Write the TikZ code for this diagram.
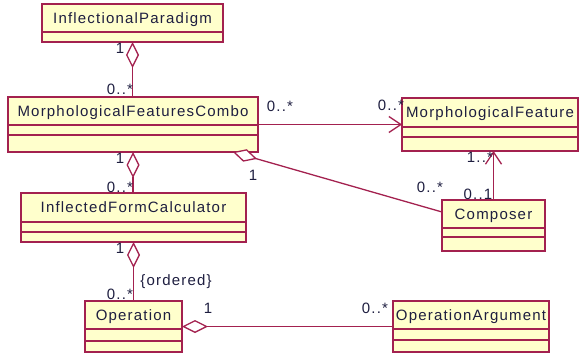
\documentclass[tikz,border=0pt]{standalone}
\usepackage{fontspec}
\setmainfont{Liberation Sans}[LetterSpace=8]
\usetikzlibrary{arrows.meta}
\definecolor{umlline}{HTML}{A3214F}
\definecolor{umlfill}{HTML}{FFFFCC}
\definecolor{umltext}{HTML}{1E1E40}
\tikzset{
  clsbox/.style={draw=umlline, fill=umlfill, line width=1.3pt, inner sep=0pt, outer sep=0pt},
  clsline/.style={draw=umlline, line width=1.3pt},
  clstext/.style={text=umltext, inner sep=0pt, anchor=base, font=\fontsize{15}{18}\selectfont},
  lbl/.style={text=umltext, inner sep=0pt, anchor=base, font=\fontsize{15}{18}\selectfont},
  assoc/.style={draw=umlline, line width=1.3pt},
  agg/.style={{Diamond[open,fill=white,length=26pt,width=13pt]}-},
  nav/.style={-{Straight Barb[length=12pt,width=16pt]}}
}
\newcommand\umlclass[8]{%
  \node[clsbox, minimum width={(#4-#2)*1pt}, minimum height={(#5-#3)*1pt}, anchor=north west] (#1) at (#2,#3) {};
  \draw[clsline] (#2,#6) -- (#4,#6);
  \draw[clsline] (#2,#7) -- (#4,#7);
  \node[clstext] (#1-name) at ({(#2+#4)/2},{(#3+#6)/2+5.4}) {#8};
}
\newcommand\umllab[4]{\node[lbl] (#1) at (#2,{#3+5.4}) {#4};}
\begin{document}
\begin{tikzpicture}[x=1pt,y=-1pt]
\useasboundingbox (0,0) rectangle (580,353);
\umlclass{ip}{42}{4}{223}{42}{32}{32}{InflectionalParadigm}
\umlclass{mfc}{8}{97}{258}{152}{125}{135}{MorphologicalFeaturesCombo}
\umlclass{mf}{402}{98}{578}{151}{127}{137}{MorphologicalFeature}
\umlclass{ifc}{21}{193}{246}{242}{222}{232}{InflectedFormCalculator}
\umlclass{comp}{442}{200}{545}{251}{228}{237}{Composer}
\umlclass{op}{85}{301}{182}{352}{329}{341}{Operation}
\umlclass{oa}{393}{301}{549}{352}{329}{340}{OperationArgument}

\draw[assoc, agg] (ip.south) -- (ip.south |- mfc.north);
\draw[assoc, agg] (mfc.south) -- (mfc.south |- ifc.north);
\draw[assoc, agg] (ifc.south) -- (ifc.south |- op.north);
\draw[assoc, agg] (op.east) -- (op.east -| oa.west);
\draw[assoc, nav] (mfc.east) -- (mfc.east -| mf.west);
\draw[assoc, nav] (comp.north) -- (comp.north |- mf.south);
\draw[assoc, {Diamond[open,fill=white,length=25pt,width=13pt]}-] ([xshift=-25pt]mfc.south east) -- ([yshift=13.5pt]comp.west);

\umllab{l1}{120}{48}{1}
\umllab{l2}{120}{89}{0..*}
\umllab{l3}{120}{158}{1}
\umllab{l4}{120}{187}{0..*}
\umllab{l5}{120}{248}{1}
\umllab{l6}{176}{280}{\{ordered\}}
\umllab{l7}{120}{294}{0..*}
\umllab{l8}{208}{308}{1}
\umllab{l9}{375}{308}{0..*}
\umllab{l10}{280}{106}{0..*}
\umllab{l11}{391}{105}{0..*}
\umllab{l12}{480}{157}{1..*}
\umllab{l13}{478}{194}{0..1}
\umllab{l14}{430}{187}{0..*}
\umllab{l15}{253}{175}{1}
\end{tikzpicture}
\end{document}
